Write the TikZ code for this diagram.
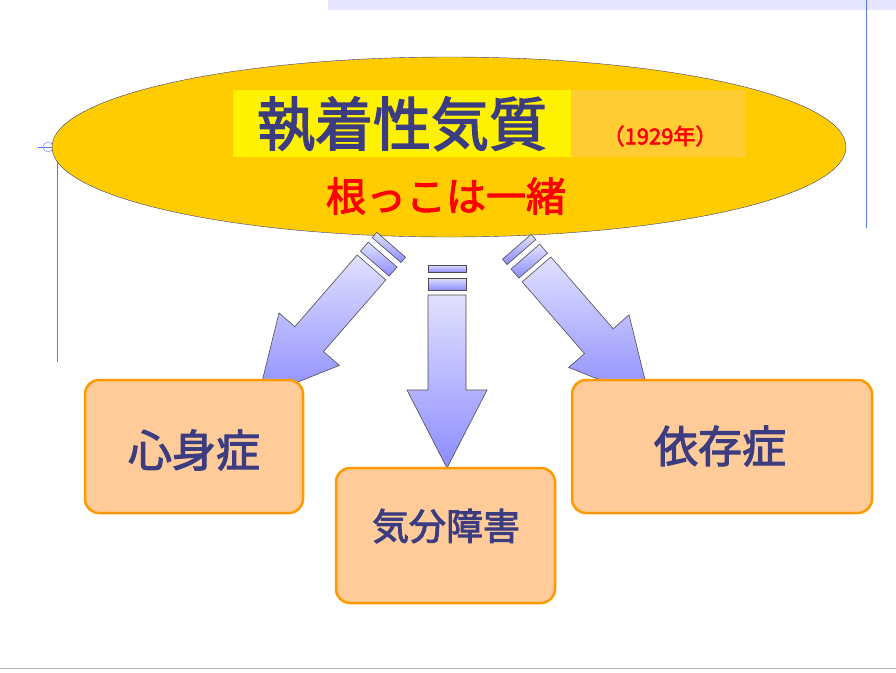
\documentclass[tikz,border=0pt]{standalone}
\usepackage{fontspec}
\newfontfamily\jpb[FakeBold=2.5]{Noto Sans CJK JP}
\usetikzlibrary{positioning,shapes.geometric}
\definecolor{navy}{HTML}{3C3C80}
\definecolor{gold}{HTML}{FFCC00}
\definecolor{peach}{HTML}{FFCC99}
\definecolor{rim}{HTML}{FF9900}
\definecolor{guide}{HTML}{5A78F0}

\tikzset{
  sickbox/.style={draw=rim, line width=2.5pt, fill=peach, rounded corners=14pt},
  sicktext/.style={text=navy, font=\jpb\fontsize{44}{48}\selectfont},
  arrowbody/.style={draw=black!70, line width=0.6pt, top color=blue!12, bottom color=blue!45},
}

% block arrow, tip at origin, pointing down
\newcommand{\blockarrow}{%
  \draw[arrowbody] (-19,-203) rectangle (19,-196);
  \draw[arrowbody] (-19,-190) rectangle (19,-178);
  \draw[arrowbody] (-19,-173) -- (19,-173) -- (19,-78) -- (40,-78) -- (0,0)
     -- (-40,-78) -- (-19,-78) -- cycle;
}

\begin{document}
\begin{tikzpicture}[x=1pt,y=-1pt]
  \useasboundingbox (0,0) rectangle (896,672);

  % frame guides
  \fill[blue!10] (328,0) rectangle (896,10);
  \draw[guide, thin] (57,150) -- (57,362);
  \draw[guide, thin] (866,0) -- (866,228);
  \draw[guide, thin] (38,147) -- (58,147);
  \draw[guide, thin] (48,147) circle (5);
  \draw[black!30] (0,668) -- (896,668);

  % ellipse with the heading
  \node[ellipse, draw=navy, fill=gold, minimum width=794, minimum height=180, inner sep=0]
    (trait) at (449,147) {};
  \fill[yellow] (233,90) rectangle (571,157);
  \fill[orange!50!yellow!80] (571,90) rectangle (746,157);
  \node[text=navy, font=\jpb\fontsize{58}{62}\selectfont, anchor=center] (title) at (402,124) {執着性気質};
  \node[text=red, font=\jpb\fontsize{22}{24}\selectfont] (year) at (660,136) {（1929年）};
  \node[text=red, font=\jpb\fontsize{40}{44}\selectfont] (root) at (446,196) {根っこは一緒};

  % arrows
  \begin{scope}[shift={(258,398)}, rotate=-41] \blockarrow \end{scope}
  \begin{scope}[shift={(447,468)}] \blockarrow \end{scope}
  \begin{scope}[shift={(650,400)}, rotate=41] \blockarrow \end{scope}

  % boxes
  \draw[sickbox] (85,380) rectangle (303,513);
  \draw[sickbox] (572,380) rectangle (872,513);
  \draw[sickbox] (336,468) rectangle (555,603);
  \node[sicktext] (psy) at (194,450) {心身症};
  \node[sicktext] (dep) at (720,446) {依存症};
  \node[sicktext, font=\jpb\fontsize{37}{40}\selectfont] (mood) at (446,526) {気分障害};
\end{tikzpicture}
\end{document}
